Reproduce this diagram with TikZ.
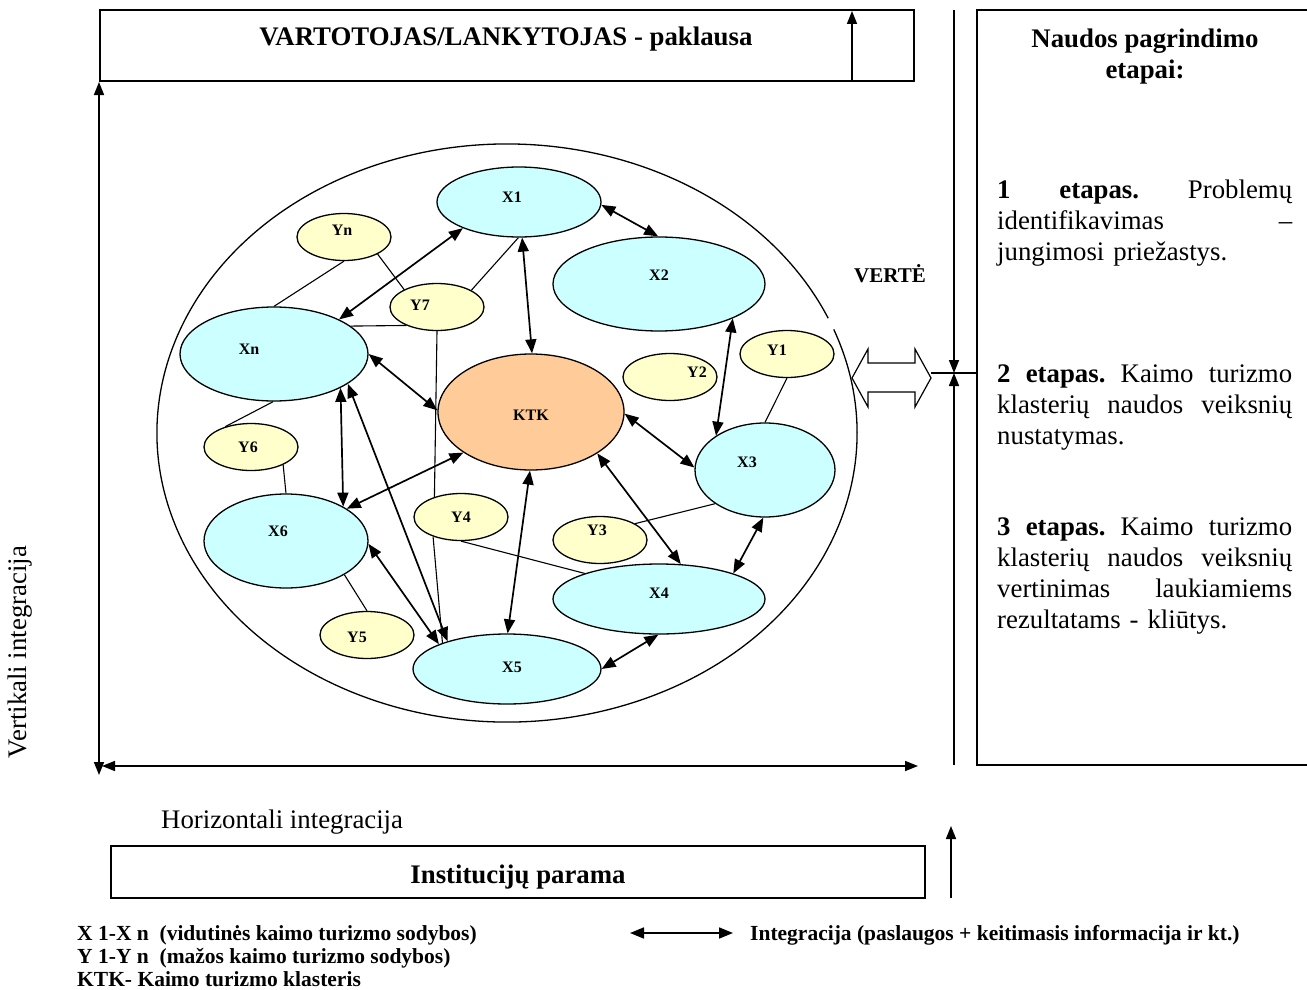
\documentclass[tikz,border=0pt]{standalone}
\usepackage{fontspec}
\setmainfont{Liberation Serif}
\usetikzlibrary{arrows.meta,
                shapes.geometric}
\definecolor{xcyan}{HTML}{CCFFFF}
\definecolor{ycream}{HTML}{FFFFCC}
\definecolor{ktkorange}{HTML}{FFCC99}
\newcommand{\panelw}{295pt}
\newcommand{\jline}[1]{\makebox[\panelw][s]{#1}}
\tikzset{
  boxframe/.style={draw, line width=1.6pt, inner sep=0pt},
  xhouse/.style={ellipse, draw, line width=1.3pt, fill=xcyan, inner sep=0pt},
  yhouse/.style={ellipse, draw, line width=1.3pt, fill=ycream, inner sep=0pt,
                 minimum width=94pt, minimum height=47pt},
  tag/.style={font=\fontsize{16}{18}\selectfont\bfseries, inner sep=0pt},
  bigbold/.style={font=\fontsize{26.8}{31}\selectfont\bfseries, inner sep=0pt},
  bigreg/.style={font=\fontsize{26.8}{31}\selectfont, inner sep=0pt},
  keytext/.style={font=\fontsize{21.5}{23}\selectfont\bfseries, inner sep=0pt},
  link/.style={line width=1.7pt,
               {Triangle[length=14pt,width=11pt]}-{Triangle[length=14pt,width=11pt]}},
  tie/.style={line width=1.1pt},
  axis/.style={line width=1.6pt,
               {Triangle[length=13pt,width=10pt]}-{Triangle[length=13pt,width=10pt]}},
  uparrow/.style={line width=1.6pt, -{Triangle[length=13pt,width=10pt]}},
}
\begin{document}
\begin{tikzpicture}[x=1pt,y=-1pt]
\useasboundingbox (0,0) rectangle (1307,990);

% frames round the cluster
\node at (507,45.5) [boxframe, minimum width=814pt, minimum height=71pt] (demand) {};
\node at (506,46) [anchor=base, bigbold] (demandtxt) {VARTOTOJAS/LANKYTOJAS - paklausa};
\node at (518,872) [boxframe, minimum width=814pt, minimum height=52pt] (support) {};
\node at (518,883) [anchor=base, bigbold] (supporttxt) {Institucijų parama};
\draw[line width=1.6pt] (1312,10) -- (977,10) -- (977,765) -- (1312,765);

\coordinate (vtop) at (99,82);
\coordinate (vbot) at (99,775);
\coordinate (hleft) at (102,766);
\coordinate (hright) at (918,766);
\draw[axis] (vbot) -- (vtop);
\draw[axis] (hleft) -- (hright);

\coordinate (dlow) at (852,81);
\coordinate (dhigh) at (852,11);
\draw[uparrow] (dlow) -- (dhigh);
\coordinate (slow) at (951,898);
\coordinate (shigh) at (951,826);
\draw[uparrow] (slow) -- (shigh);

\coordinate (rtop) at (954,10);
\coordinate (rbot) at (954,765);
\coordinate (meet) at (954,373);
\coordinate (vtip) at (931,373);
\coordinate (pleft) at (977,373);
\draw[uparrow] (rtop) -- (meet);
\draw[uparrow] (rbot) -- (meet);
\draw[line width=1.2pt] (vtip) -- (pleft);
\draw[line width=1.2pt, fill=white] (852,378) -- (868,349) -- (868,363) -- (915,363)
  -- (915,349) -- (931,378) -- (915,407) -- (915,392) -- (868,392) -- (868,407) -- cycle;

\node at (20,652) [rotate=90, bigreg] (vint) {Vertikali integracija};
\node at (161,828) [anchor=base west, bigreg] (hint) {Horizontali integracija};
\node at (890,282) [anchor=base, font=\fontsize{21}{24}\selectfont\bfseries, inner sep=0pt] (value) {VERTĖ};

% stages
\node at (1145,78) [anchor=base, bigbold, align=center] (steps) {Naudos pagrindimo\\etapai:};
\node at (997,198) [anchor=base west, bigreg, text width=\panelw, align=left] (step1)
  {\jline{\textbf{1}\hfill\textbf{etapas.}\hfill Problemų}\\
   \jline{identifikavimas\hfill –}\\
   jungimosi priežastys.};
\node at (997,382) [anchor=base west, bigreg, text width=\panelw, align=left] (step2)
  {\jline{\textbf{2}\hfill\textbf{etapas.}\hfill Kaimo\hfill turizmo}\\
   \jline{klasterių\hfill naudos\hfill veiksnių}\\
   nustatymas.};
\node at (997,535) [anchor=base west, bigreg, text width=\panelw, align=left] (step3)
  {\jline{\textbf{3}\hfill\textbf{etapas.}\hfill Kaimo\hfill turizmo}\\
   \jline{klasterių\hfill naudos\hfill veiksnių}\\
   \jline{vertinimas\hfill laukiamiems}\\
   rezultatams - kliūtys.};

% cluster
\draw[line width=1.3pt] ([shift={(-21:350 and 289)}]507,433)
  arc[start angle=-21, end angle=336.6, x radius=350, y radius=289];

\node at (531,412) [xhouse, fill=ktkorange, minimum width=186pt, minimum height=116pt,
  label={[tag,yshift=-3pt]center:KTK}] (KTK) {};
\node at (519,202) [xhouse, minimum width=164pt, minimum height=70pt,
  label={[tag,xshift=-7pt,yshift=5pt]center:X1}] (X1) {};
\node at (659,284) [xhouse, minimum width=212pt, minimum height=94pt,
  label={[tag,yshift=9pt]center:X2}] (X2) {};
\node at (765,470) [xhouse, minimum width=140pt, minimum height=94pt,
  label={[tag,xshift=-18pt,yshift=8pt]center:X3}] (X3) {};
\node at (659,599) [xhouse, minimum width=212pt, minimum height=70pt,
  label={[tag,yshift=6pt]center:X4}] (X4) {};
\node at (507,669) [xhouse, minimum width=188pt, minimum height=70pt,
  label={[tag,xshift=5pt,yshift=2pt]center:X5}] (X5) {};
\node at (286,541) [xhouse, minimum width=164pt, minimum height=94pt,
  label={[tag,xshift=-8pt,yshift=10pt]center:X6}] (X6) {};
\node at (274,354) [xhouse, minimum width=188pt, minimum height=94pt,
  label={[tag,xshift=-25pt,yshift=5pt]center:Xn}] (Xn) {};

\node at (787,354) [yhouse, label={[tag,xshift=-10pt,yshift=4pt]center:Y1}] (Y1) {};
\node at (670,377) [yhouse, label={[tag,xshift=27pt,yshift=5pt]center:Y2}] (Y2) {};
\node at (600,540) [yhouse, label={[tag,xshift=-3pt,yshift=10pt]center:Y3}] (Y3) {};
\node at (461,517) [yhouse, label={[tag]center:Y4}] (Y4) {};
\node at (367,635) [yhouse, label={[tag,xshift=-10pt,yshift=-2pt]center:Y5}] (Y5) {};
\node at (251,447) [yhouse, label={[tag,xshift=-3pt]center:Y6}] (Y6) {};
\node at (437,307) [yhouse, label={[tag,xshift=-17pt,yshift=2pt]center:Y7}] (Y7) {};
\node at (344,237) [yhouse, label={[tag,xshift=-2pt,yshift=7pt]center:Yn}] (Yn) {};

\draw[link] (Xn.28) -- (X1.205);
\draw[link] (X1.-85) -- (KTK.89);
\draw[link] (X1.-2) -- (X2.91);
\draw[link] (X2.-25) -- (X3.145);
\draw[link] (Xn.0) -- (KTK.179);
\draw[link] (KTK.-1) -- (X3.178);
\draw[link] (KTK.-32) -- (X4.58);
\draw[link] (KTK.-91) -- (X5.89);
\draw[link] (KTK.-149) -- (X6.28);
\draw[link] (Xn.-27) -- (X6.31);
\draw[link] (Xn.-22) -- (X5.155);
\draw[link] (X6.-2) -- (X5.160);
\draw[link] (X3.-92) -- (X4.19);
\draw[link] (X4.-91) -- (X5.0);

\draw[tie] (Yn.-90) -- (Xn.90);
\draw[tie] (Yn.-27) -- (Y7.152);
\draw[tie] (Y7.26) -- (X1.-91);
\draw[tie] (Y7.211) -- (Xn.20);
\draw[tie] (Y7.-90) -- (Y4.143);
\draw[tie] (Y4.215) -- (X5.158);
\draw[tie] (Xn.-91) -- (Y6.142);
\draw[tie] (Y6.-29) -- (X6.90);
\draw[tie] (X6.-30) -- (Y5.90);
\draw[tie] (Y4.-90) -- (X4.161);
\draw[tie] (Y3.25) -- (X3.214);
\draw[tie] (Y1.-90) -- (X3.90);

% legend
\node at (77,986) [anchor=base west, keytext, align=left] (key)
  {X 1-X n \ (vidutinės kaimo turizmo sodybos)\\Y 1-Y n \ (mažos kaimo turizmo sodybos)\\KTK- Kaimo turizmo klasteris};
\coordinate (kleft) at (630,933);
\coordinate (kright) at (733,933);
\draw[link] (kleft) -- (kright);
\node at (750,940) [anchor=base west, keytext] (keylink) {Integracija (paslaugos + keitimasis informacija ir kt.)};
\end{tikzpicture}
\end{document}
